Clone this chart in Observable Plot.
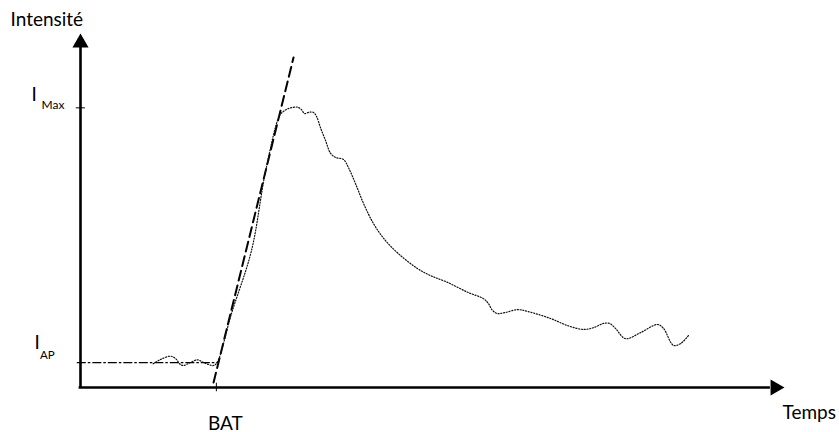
<!DOCTYPE html>
<html>
<head>
<meta charset="utf-8">
<script src="https://cdn.jsdelivr.net/npm/d3@7"></script>
<script src="https://cdn.jsdelivr.net/npm/@observablehq/plot@0.6"></script>
<style>
  html, body { margin: 0; padding: 0; background: #fff; }
  #chart svg { display: block; }
</style>
</head>
<body>
<div id="chart"></div>
<script>
// ---- Data (arbitrary units: time 0–100, intensity 0–100) ----
const yLabel = "Intensité";
const xLabel = "Temps";
const batLabel = "BAT";
const iMaxMain = "I", iMaxSub = "Max";
const iApMain = "I", iApSub = "AP";

const iAP = 7.0;     // baseline intensity
const iMax = 79.0;   // peak intensity
const bat = 19.3;    // bolus arrival time

// tangent (dashed) line end points
const tangentT = [18.9, 30.26];
const tangentI = [1.4, 93.2];

// measured signal (dotted)
const sigT = [10.33, 11.36, 12.78, 13.49, 14.20, 14.63, 15.63, 16.58, 17.47, 18.18, 18.89, 19.42,
  21.45, 24.29, 26.28, 28.27, 28.84, 29.40, 30.11, 30.82, 31.39, 31.82, 32.53, 33.10, 33.52,
  34.09, 34.80, 35.51, 36.22, 37.36, 38.07, 39.06, 40.20, 41.62, 43.32, 45.45, 47.87, 49.72, 52.13,
  55.11, 57.24, 57.95, 58.52, 59.23, 60.37, 62.07, 63.49, 66.76, 69.18, 71.45, 72.87, 74.29, 75.14,
  75.99, 77.41, 79.55, 81.96, 82.81, 84.23, 85.23, 86.36];
const sigI = [6.69, 7.91, 8.84, 8.19, 6.50, 6.21, 7.06, 7.82, 7.06, 6.50, 6.21, 7.15,
  20.9, 38.7, 61.0, 76.8, 78.0, 78.7, 79.1, 79.2, 78.5, 77.4, 77.8, 77.7, 76.6,
  73.4, 69.8, 66.2, 65.0, 64.4, 62.1, 57.6, 52.0, 46.3, 41.5, 37.3, 33.6, 31.6, 29.7,
  26.8, 25.1, 23.7, 21.8, 20.9, 21.2, 22.0, 21.5, 19.5, 17.5, 16.4, 16.9, 18.1, 18.1,
  16.7, 13.8, 15.5, 17.8, 16.7, 11.9, 12.4, 14.7];

// ---- Build tables ----
const signal = sigT.map((t, i) => ({t, v: sigI[i]}));
const tangent = tangentT.map((t, i) => ({t, v: tangentI[i]}));
const baseline = [{t: -0.45, v: iAP}, {t: 19.6, v: iAP}];

const font = "Lato, 'Open Sans', sans-serif";

const chart = Plot.plot({
  width: 839,
  height: 432,
  marginLeft: 80,
  marginRight: 55,
  marginTop: 33,
  marginBottom: 45,
  x: {domain: [0, 100], axis: null},
  y: {domain: [0, 100], axis: null},
  style: {fontFamily: font, background: "white", color: "black"},
  marks: [
    // axes lines
    Plot.ruleX([0], {y1: 0, y2: 97, stroke: "black", strokeWidth: 2.6}),
    Plot.ruleY([0], {x1: -0.2, x2: 98, stroke: "black", strokeWidth: 2.6}),
    // arrow heads
    Plot.dot([0], {x: 0, y: 100, symbol: "triangle2", r: 7.7, fill: "black", stroke: "none", dy: 9.3}),
    Plot.dot([0], {x: 100, y: 0, symbol: "triangle2", r: 7.7, fill: "black", stroke: "none", dx: -9.3, rotate: 90}),
    // I_Max tick and BAT tick
    Plot.ruleY([iMax], {x1: -0.6, x2: 0.7, stroke: "black", strokeWidth: 1}),
    Plot.ruleX([bat], {y1: -1.2, y2: 1.2, stroke: "black", strokeWidth: 1}),
    // baseline I_AP (dash-dot)
    Plot.line(baseline, {x: "t", y: "v", stroke: "black", strokeWidth: 1.3, strokeDasharray: "8 3 1.5 3"}),
    // tangent (dashed)
    Plot.line(tangent, {x: "t", y: "v", stroke: "black", strokeWidth: 2, strokeDasharray: "10 5"}),
    // signal (dotted)
    Plot.line(signal, {x: "t", y: "v", curve: "catmull-rom", stroke: "#111", strokeWidth: 1.2, strokeDasharray: "1.1 1.7"}),
    // labels
    Plot.text([yLabel], {frameAnchor: "top-left", text: d => d, dx: -70, dy: -8, textAnchor: "start", lineAnchor: "bottom", fontSize: 19, fill: "black"}),
    Plot.text([xLabel], {x: 100, y: 0, text: d => d, dx: -2, dy: 31, textAnchor: "start", lineAnchor: "bottom", fontSize: 19, fill: "black"}),
    Plot.text([batLabel], {x: bat, y: 0, text: d => d, dx: 9, dy: 42, textAnchor: "middle", lineAnchor: "bottom", fontSize: 19, fill: "black"}),
    Plot.text([iMaxMain], {x: 0, y: iMax, text: d => d, dx: -49, dy: -7.3, textAnchor: "start", lineAnchor: "bottom", fontSize: 19, fill: "black"}),
    Plot.text([iMaxSub], {x: 0, y: iMax, text: d => d, dx: -39, dy: 1, textAnchor: "start", lineAnchor: "bottom", fontSize: 12, fill: "black"}),
    Plot.text([iApMain], {x: 0, y: iAP, text: d => d, dx: -46, dy: -14, textAnchor: "start", lineAnchor: "bottom", fontSize: 19, fill: "black"}),
    Plot.text([iApSub], {x: 0, y: iAP, text: d => d, dx: -40.5, dy: -4, textAnchor: "start", lineAnchor: "bottom", fontSize: 11.5, fill: "black"})
  ]
});
document.getElementById("chart").appendChild(chart);
</script>
</body>
</html>
